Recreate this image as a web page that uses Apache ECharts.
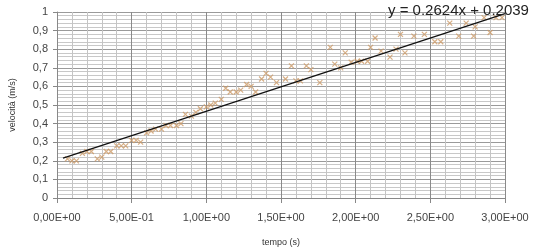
<!DOCTYPE html>
<html>
<head>
<meta charset="utf-8">
<script src="https://cdn.jsdelivr.net/npm/echarts@6/dist/echarts.min.js"></script>
<style>
html,body{margin:0;padding:0;background:#fff;}
#c{width:540px;height:252px;}
</style>
</head>
<body>
<div id="c"></div>
<script>
// Measured time (s)
var tempo = [0.07,0.10,0.13,0.17,0.20,0.23,0.27,0.30,0.33,0.36,0.40,0.43,0.46,0.50,0.53,0.56,0.60,0.63,0.66,0.70,0.73,0.76,0.80,0.83,0.86,0.90,0.93,0.96,1.00,1.03,1.06,1.10,1.13,1.16,1.20,1.23,1.27,1.30,1.33,1.37,1.40,1.43,1.47,1.53,1.57,1.60,1.63,1.67,1.70,1.76,1.83,1.86,1.90,1.93,1.97,2.01,2.04,2.08,2.10,2.13,2.17,2.23,2.27,2.30,2.33,2.39,2.46,2.53,2.57,2.63,2.69,2.74,2.79,2.80,2.86,2.90,2.94,2.98];
// Measured velocity (m/s)
var velocita = [0.21,0.20,0.20,0.24,0.25,0.25,0.21,0.22,0.25,0.25,0.28,0.28,0.28,0.31,0.31,0.30,0.35,0.36,0.37,0.37,0.39,0.39,0.39,0.40,0.45,0.44,0.46,0.48,0.49,0.50,0.51,0.53,0.59,0.57,0.57,0.58,0.61,0.60,0.57,0.64,0.67,0.65,0.62,0.64,0.71,0.63,0.63,0.71,0.69,0.62,0.81,0.72,0.70,0.78,0.73,0.735,0.735,0.735,0.81,0.86,0.79,0.757,0.80,0.88,0.78,0.87,0.88,0.84,0.84,0.94,0.87,0.94,0.87,0.92,0.97,0.89,0.97,0.97];
// Linear trendline coefficients and range
var trendSlope = 0.2624;
var trendIntercept = 0.2039;
var trendRange = [0.04, 3.0];
var trendLabel = 'y = 0.2624x + 0.2039';
// Tick labels
var xTickValues = [0, 0.5, 1.0, 1.5, 2.0, 2.5, 3.0];
var xTickLabels = ['0,00E+00','5,00E-01','1,00E+00','1,50E+00','2,00E+00','2,50E+00','3,00E+00'];
var yTickValues = [0,0.1,0.2,0.3,0.4,0.5,0.6,0.7,0.8,0.9,1];
var yTickLabels = ['0','0,1','0,2','0,3','0,4','0,5','0,6','0,7','0,8','0,9','1'];

var points = tempo.map(function(t,i){return [t, velocita[i]];});
var trend = trendRange.map(function(x){return [x, trendSlope*x + trendIntercept];});

function lookup(vals, labels, v){
  for (var i=0;i<vals.length;i++){ if (Math.abs(vals[i]-v)<1e-6) return labels[i]; }
  return '';
}

var chart = echarts.init(document.getElementById('c'), null, {renderer:'canvas'});
chart.setOption({
  animation:false,
  backgroundColor:'#ffffff',
  textStyle:{fontFamily:'Liberation Sans, Arial, sans-serif'},
  grid:{left:51.5,right:35,top:12,bottom:51},
  xAxis:{
    type:'value',min:0,max:3,interval:0.5,
    name:'tempo (s)',nameLocation:'middle',nameGap:40,
    nameTextStyle:{fontSize:9,color:'#333'},
    axisLine:{show:true,lineStyle:{color:'#888',width:1}},
    axisTick:{show:true,length:5,lineStyle:{color:'#888'}},
    axisLabel:{fontSize:11,color:'#444',margin:14,formatter:function(v){return lookup(xTickValues,xTickLabels,v);}},
    splitLine:{show:true,lineStyle:{color:'#8a8a8a',width:1}},
    minorTick:{show:false,splitNumber:5},
    minorSplitLine:{show:true,lineStyle:{color:'#c4c4c4',width:1}}
  },
  yAxis:{
    type:'value',min:0,max:1,interval:0.1,
    name:'velocità (m/s)',nameLocation:'middle',nameGap:40,nameRotate:90,
    nameTextStyle:{fontSize:9,color:'#333'},
    axisLine:{show:true,lineStyle:{color:'#888',width:1}},
    axisTick:{show:true,length:4,lineStyle:{color:'#888'}},
    axisLabel:{fontSize:11,color:'#444',margin:9,formatter:function(v){return lookup(yTickValues,yTickLabels,v);}},
    splitLine:{show:true,lineStyle:{color:'#9a9a9a',width:1}},
    minorTick:{show:false,splitNumber:5},
    minorSplitLine:{show:true,lineStyle:{color:'#c8c8c8',width:1}}
  },
  series:[
    {
      type:'scatter',
      data:points,
      symbol:'path://M0,0L10,10M10,0L0,10',
      symbolSize:5,
      itemStyle:{color:'rgba(0,0,0,0)',borderColor:'#cc9a66',borderWidth:1.2},
      z:3
    },
    {
      type:'line',
      data:trend,
      showSymbol:false,
      symbol:'none',
      lineStyle:{color:'#111',width:1.3},
      z:4
    }
  ],
  graphic:[{
    type:'text',
    left:388,top:3,
    style:{text:trendLabel,fontSize:15,fill:'#222',fontFamily:'Liberation Sans, Arial, sans-serif'},
    z:10
  }]
});
</script>
</body>
</html>
